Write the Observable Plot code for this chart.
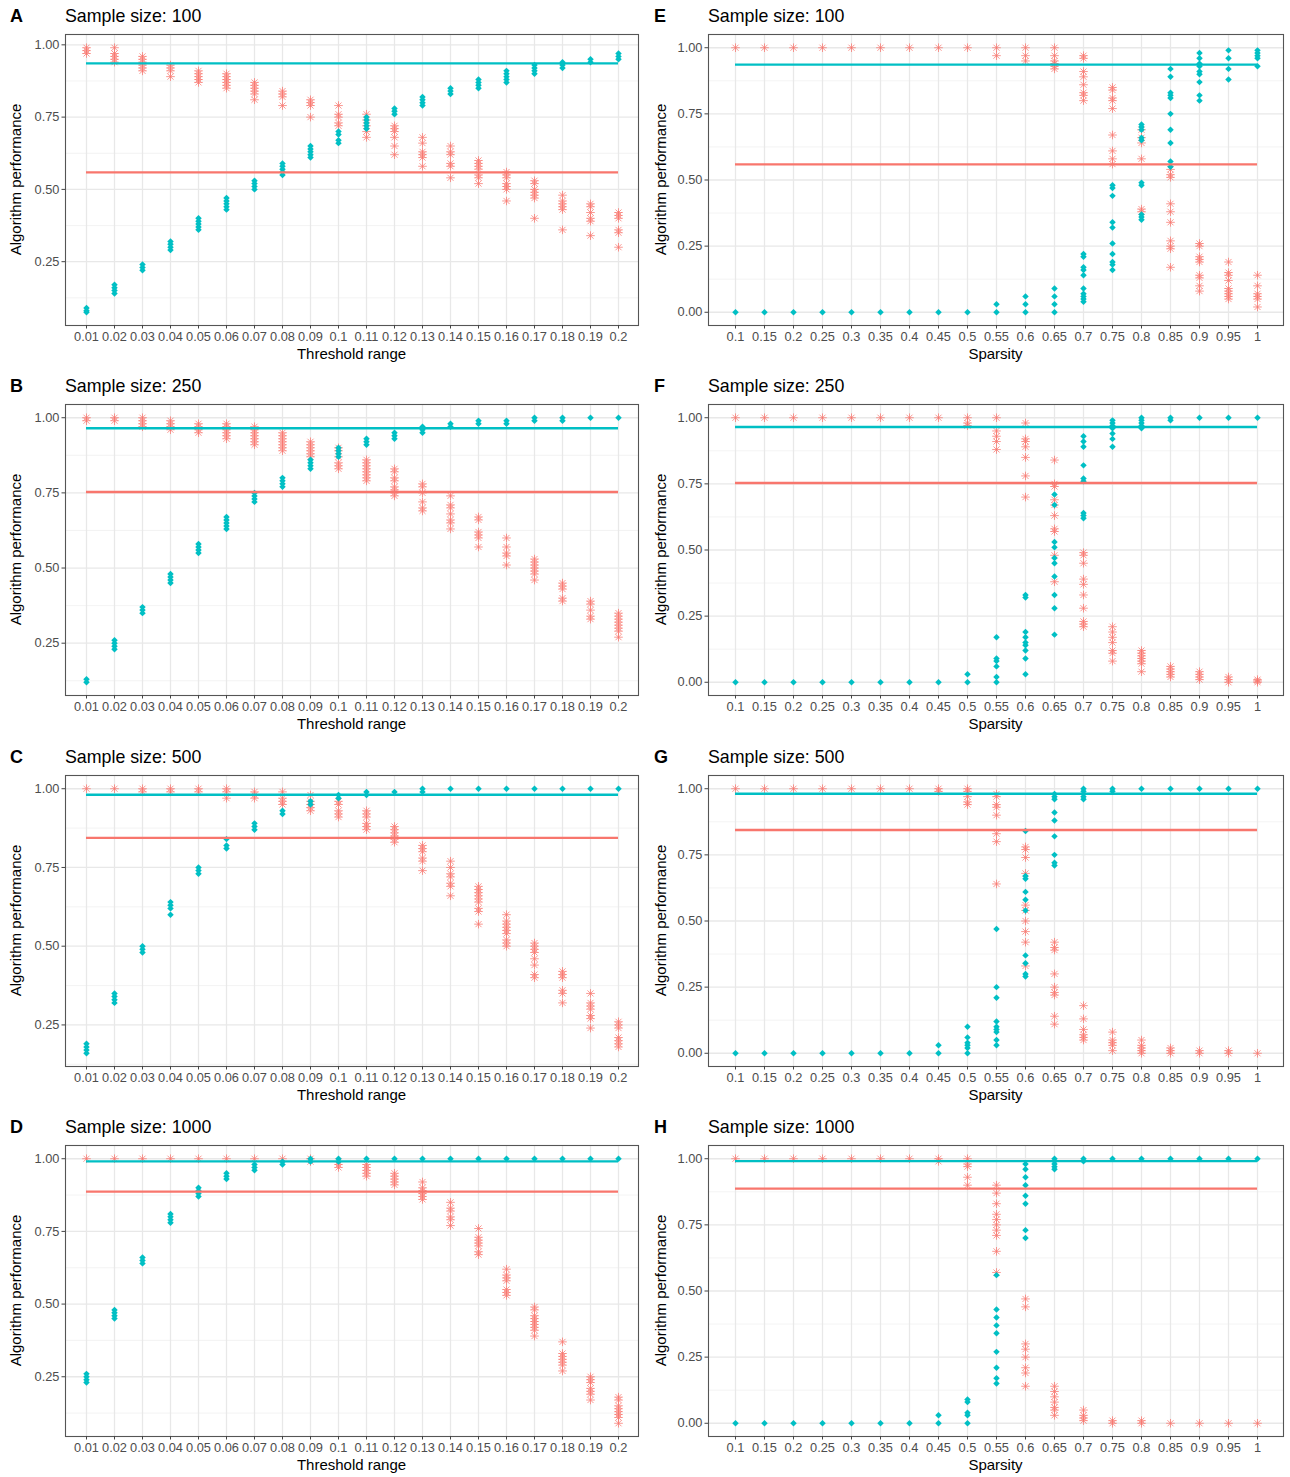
<!DOCTYPE html>
<html><head><meta charset="utf-8">
<script src="https://cdn.jsdelivr.net/npm/d3@7"></script>
<script src="https://cdn.jsdelivr.net/npm/@observablehq/plot@0.6"></script>
<style>
body{margin:0;background:#fff;}
#root{position:relative;width:1290px;height:1477px;background:#fff;font-family:"Liberation Sans",Arial,sans-serif;}
.panel{position:absolute;}
</style></head><body><div id="root"></div>
<script>
const thresholdCats = ["0.01","0.02","0.03","0.04","0.05","0.06","0.07","0.08","0.09","0.1","0.11","0.12","0.13","0.14","0.15","0.16","0.17","0.18","0.19","0.2"];
const sparsityCats = ["0.1","0.15","0.2","0.25","0.3","0.35","0.4","0.45","0.5","0.55","0.6","0.65","0.7","0.75","0.8","0.85","0.9","0.95","1"];
const sampleSizes = [100, 250, 500, 1000];
const leftLetters = ["A","B","C","D"];
const rightLetters = ["E","F","G","H"];
const refTeal = [0.936, 0.965, 0.981, 0.991];
const refRed = [0.559, 0.753, 0.844, 0.887];
const yMajorTicks = [0, 0.25, 0.5, 0.75, 1];
const yMinorTicks = [0.125, 0.375, 0.625, 0.875];

// Threshold range panels (teal diamonds / red asterisks)
const A_teal = [[0.075,0.08,0.09],[0.14,0.15,0.16,0.17],[0.22,0.23,0.24],[0.29,0.30,0.31,0.32],[0.36,0.37,0.38,0.39,0.40],[0.43,0.44,0.45,0.46,0.47],[0.50,0.51,0.52,0.53],[0.55,0.56,0.57,0.58,0.59],[0.61,0.62,0.63,0.64,0.65],[0.66,0.67,0.69,0.70],[0.71,0.72,0.73,0.74,0.75],[0.76,0.77,0.78],[0.79,0.80,0.81,0.82],[0.83,0.84,0.85],[0.85,0.86,0.87,0.88],[0.87,0.88,0.89,0.90,0.91],[0.90,0.91,0.92,0.93],[0.92,0.93,0.94],[0.94,0.95],[0.95,0.96,0.97]];
const A_red = [[0.97,0.98,0.99],[0.94,0.95,0.96,0.97,0.99],[0.91,0.92,0.93,0.94,0.95,0.96],[0.89,0.91,0.92,0.93],[0.87,0.88,0.89,0.90,0.91],[0.85,0.86,0.87,0.88,0.89,0.90],[0.81,0.83,0.84,0.85,0.86,0.87],[0.79,0.82,0.83,0.84],[0.75,0.79,0.80,0.81],[0.72,0.73,0.75,0.76,0.79],[0.68,0.70,0.72,0.74,0.76],[0.62,0.65,0.68,0.70,0.71,0.72],[0.58,0.61,0.62,0.63,0.66,0.68],[0.54,0.58,0.59,0.62,0.63,0.65],[0.52,0.54,0.55,0.57,0.58,0.59,0.60],[0.46,0.50,0.51,0.52,0.54,0.55,0.56],[0.40,0.47,0.48,0.49,0.50,0.52,0.53],[0.36,0.43,0.44,0.45,0.46,0.48],[0.34,0.39,0.40,0.42,0.44,0.45],[0.30,0.35,0.36,0.40,0.41,0.42]];
const B_teal = [[0.12,0.13],[0.23,0.24,0.25,0.26],[0.35,0.36,0.37],[0.45,0.46,0.47,0.48],[0.55,0.56,0.57,0.58],[0.63,0.64,0.65,0.66,0.67],[0.72,0.73,0.74,0.75],[0.77,0.78,0.79,0.80],[0.83,0.84,0.85,0.86],[0.87,0.88,0.89,0.90],[0.91,0.92,0.93],[0.93,0.94,0.95],[0.95,0.96,0.97],[0.97,0.98],[0.98,0.99],[0.98,0.99],[0.99,1.0],[0.99,1.0],[1.0],[1.0]];
const B_red = [[0.99,1.0],[0.99,1.0],[0.97,0.98,0.99,1.0],[0.96,0.97,0.98,0.99],[0.95,0.96,0.97,0.98],[0.93,0.94,0.95,0.96,0.97,0.98],[0.91,0.92,0.93,0.94,0.95,0.96,0.97],[0.89,0.90,0.91,0.92,0.93,0.94,0.95],[0.87,0.88,0.89,0.90,0.91,0.92],[0.83,0.84,0.85,0.87,0.89,0.90],[0.79,0.80,0.81,0.82,0.83,0.84,0.85,0.86],[0.74,0.75,0.76,0.77,0.79,0.80,0.82,0.83],[0.69,0.70,0.72,0.75,0.77,0.78],[0.63,0.65,0.66,0.68,0.70,0.71,0.74],[0.57,0.60,0.61,0.62,0.66,0.67],[0.51,0.54,0.55,0.57,0.60],[0.46,0.48,0.49,0.50,0.51,0.52,0.53],[0.39,0.40,0.43,0.44,0.45],[0.33,0.34,0.36,0.38,0.39],[0.27,0.29,0.30,0.31,0.32,0.33,0.34,0.35]];
const C_teal = [[0.16,0.17,0.18,0.19],[0.32,0.33,0.34,0.35],[0.48,0.49,0.50],[0.60,0.62,0.63,0.64],[0.73,0.74,0.75],[0.81,0.82,0.84],[0.87,0.88,0.89],[0.92,0.93],[0.95,0.96],[0.97,0.98],[0.98,0.99],[0.99],[0.99,1.0],[1.0],[1.0],[1.0],[1.0],[1.0],[1.0],[1.0]];
const C_red = [[1.0],[1.0],[0.99,1.0],[0.99,1.0],[0.99,1.0],[0.97,0.99,1.0],[0.97,0.98,0.99],[0.95,0.96,0.97,0.99],[0.93,0.94,0.95,0.96,0.98],[0.91,0.92,0.93,0.95,0.96],[0.87,0.88,0.89,0.91,0.92,0.93],[0.83,0.84,0.85,0.86,0.87,0.88],[0.74,0.77,0.78,0.80,0.81,0.82],[0.66,0.69,0.70,0.72,0.73,0.75,0.77],[0.57,0.61,0.62,0.64,0.65,0.66,0.67,0.68,0.69],[0.50,0.51,0.52,0.54,0.55,0.56,0.57,0.58,0.60],[0.40,0.41,0.44,0.46,0.48,0.49,0.50,0.51],[0.32,0.35,0.36,0.40,0.41,0.42],[0.24,0.27,0.28,0.30,0.31,0.32,0.35],[0.18,0.19,0.20,0.21,0.24,0.25,0.26]];
const D_teal = [[0.23,0.24,0.25,0.26],[0.45,0.46,0.47,0.48],[0.64,0.65,0.66],[0.78,0.79,0.80,0.81],[0.87,0.88,0.89,0.90],[0.93,0.94,0.95],[0.96,0.97,0.98],[0.98,0.99],[0.99,1.0],[0.99,1.0],[1.0],[1.0],[1.0],[1.0],[1.0],[1.0],[1.0],[1.0],[1.0],[1.0]];
const D_red = [[1.0],[1.0],[1.0],[1.0],[1.0],[1.0],[1.0],[1.0],[0.99,1.0],[0.97,0.98,0.99],[0.94,0.95,0.96,0.97,0.98],[0.91,0.92,0.93,0.94,0.95],[0.86,0.87,0.88,0.89,0.90,0.92],[0.77,0.79,0.80,0.82,0.83,0.85],[0.67,0.68,0.70,0.71,0.72,0.73,0.76],[0.53,0.54,0.55,0.58,0.59,0.60,0.62],[0.39,0.41,0.42,0.43,0.44,0.45,0.46,0.48,0.49],[0.27,0.29,0.30,0.31,0.32,0.33,0.37],[0.17,0.19,0.20,0.21,0.23,0.24,0.25],[0.09,0.11,0.12,0.13,0.14,0.15,0.17,0.18]];

// Sparsity panels
const E_teal = [[0],[0],[0],[0],[0],[0],[0],[0],[0],[0,0.03],[0,0.03,0.06],[0,0.03,0.06,0.09],[0.04,0.05,0.06,0.07,0.09,0.14,0.16,0.17,0.21,0.22],[0.16,0.18,0.19,0.22,0.26,0.32,0.34,0.44,0.47,0.48],[0.35,0.36,0.37,0.48,0.49,0.65,0.66,0.69,0.70,0.71],[0.55,0.57,0.64,0.69,0.75,0.81,0.82,0.83,0.89,0.92],[0.80,0.82,0.87,0.90,0.91,0.93,0.94,0.96,0.98],[0.88,0.92,0.96,0.99],[0.93,0.96,0.97,0.98,0.99]];
const E_red = [[1],[1],[1],[1],[1],[1],[1],[1],[1],[0.97,1.0],[0.95,0.97,1.0],[0.92,0.93,0.94,0.95,0.97,1.0],[0.80,0.82,0.83,0.86,0.89,0.91,0.96,0.97],[0.56,0.58,0.61,0.67,0.77,0.80,0.81,0.84,0.85],[0.38,0.39,0.58,0.64,0.66,0.69],[0.17,0.24,0.25,0.27,0.34,0.38,0.41,0.51,0.52,0.54],[0.08,0.10,0.13,0.14,0.19,0.20,0.21,0.25,0.26],[0.05,0.06,0.07,0.08,0.09,0.12,0.14,0.15,0.19],[0.02,0.05,0.06,0.07,0.10,0.14]];
const F_teal = [[0],[0],[0],[0],[0],[0],[0],[0],[0,0.03],[0,0.02,0.06,0.08,0.09,0.17],[0.03,0.09,0.12,0.14,0.15,0.17,0.19,0.32,0.33],[0.18,0.28,0.33,0.40,0.45,0.47,0.51,0.53,0.67,0.71],[0.62,0.63,0.64,0.76,0.77,0.82,0.89,0.91,0.93],[0.89,0.92,0.94,0.96,0.97,0.98,0.99],[0.96,0.97,0.98,0.99,1.0],[0.99,1.0],[1.0],[1.0],[1.0]];
const F_red = [[1],[1],[1],[1],[1],[1],[1],[1],[0.97,0.98,1.0],[0.88,0.91,0.93,0.95,1.0],[0.70,0.78,0.85,0.89,0.91,0.92,0.98],[0.38,0.48,0.57,0.58,0.63,0.67,0.69,0.74,0.75,0.84],[0.21,0.22,0.23,0.28,0.33,0.37,0.39,0.45,0.48,0.49],[0.08,0.11,0.12,0.15,0.17,0.19,0.21],[0.04,0.07,0.08,0.09,0.10,0.11,0.12],[0.02,0.03,0.04,0.05,0.06],[0.01,0.02,0.03,0.04],[0,0.01,0.02],[0,0.005,0.01]];
const G_teal = [[0],[0],[0],[0],[0],[0],[0],[0,0.03],[0,0.02,0.03,0.04,0.06,0.10],[0.03,0.05,0.08,0.09,0.10,0.12,0.21,0.25,0.47],[0.29,0.30,0.34,0.37,0.54,0.58,0.61,0.66,0.67,0.84],[0.71,0.72,0.75,0.82,0.88,0.91,0.96,0.97,0.98],[0.96,0.97,0.98,0.99,1.0],[0.99,1.0],[1.0],[1.0],[1.0],[1.0],[1.0]];
const G_red = [[1],[1],[1],[1],[1],[1],[1],[0.99,1.0],[0.94,0.95,0.97,0.99,1.0],[0.64,0.80,0.83,0.90,0.93,0.94,0.97,0.98],[0.33,0.42,0.46,0.50,0.54,0.56,0.68,0.74,0.77,0.78],[0.11,0.14,0.22,0.23,0.25,0.30,0.39,0.40,0.42],[0.05,0.06,0.07,0.09,0.13,0.18],[0.01,0.03,0.04,0.05,0.08],[0,0.01,0.02,0.03,0.05],[0,0.01,0.02],[0,0.01],[0,0.01],[0]];
const H_teal = [[0],[0],[0],[0],[0],[0],[0],[0,0.03],[0,0.03,0.04,0.08,0.09],[0.15,0.17,0.21,0.27,0.34,0.37,0.40,0.43,0.56],[0.70,0.73,0.83,0.86,0.90,0.93,0.96,0.98],[0.96,0.97,0.98,0.99,1.0],[0.99,1.0],[1.0],[1.0],[1.0],[1.0],[1.0],[1.0]];
const H_red = [[1],[1],[1],[1],[1],[1],[1],[0.99,1.0],[0.90,0.93,0.97,0.98,1.0],[0.57,0.65,0.71,0.73,0.75,0.77,0.79,0.83,0.87,0.90],[0.14,0.19,0.21,0.25,0.28,0.30,0.44,0.47],[0.03,0.05,0.06,0.08,0.10,0.12,0.14],[0.01,0.02,0.03,0.05],[0,0.01],[0,0.01],[0],[0],[0],[0]];

const leftTeal = [A_teal, B_teal, C_teal, D_teal];
const leftRed = [A_red, B_red, C_red, D_red];
const rightTeal = [E_teal, F_teal, G_teal, H_teal];
const rightRed = [E_red, F_red, G_red, H_red];

const TEAL = "#00BFC4", RED = "#F8766D";
const FONT = "'Liberation Sans', Arial, Helvetica, sans-serif";
const rowTops = [0, 370, 741, 1111];

// ggplot shape 8 style asterisk (+ and x superimposed)
const asterisk8 = {
  draw(ctx, size) {
    const r = Math.sqrt(size / Math.PI);
    const d = r * Math.SQRT1_2;
    ctx.moveTo(-r, 0); ctx.lineTo(r, 0);
    ctx.moveTo(0, -r); ctx.lineTo(0, r);
    ctx.moveTo(-d, -d); ctx.lineTo(d, d);
    ctx.moveTo(-d, d); ctx.lineTo(d, -d);
  }
};

function makePanel(col, row) {
  const cats = col === 0 ? thresholdCats : sparsityCats;
  const tealArr = (col === 0 ? leftTeal : rightTeal)[row];
  const redArr = (col === 0 ? leftRed : rightRed)[row];
  const letter = (col === 0 ? leftLetters : rightLetters)[row];
  const xTitle = col === 0 ? "Threshold range" : "Sparsity";
  const toRows = arr => arr.flatMap((vals, i) => vals.map(v => ({x: cats[i], y: v})));
  const red = toRows(redArr), teal = toRows(tealArr);
  const ys = red.concat(teal).map(d => d.y);
  const lo = d3.min(ys), hi = d3.max(ys), pad = (hi - lo) * 0.05;
  const domain = [lo - pad, hi + pad];
  const major = yMajorTicks.filter(t => t >= domain[0] && t <= domain[1]);
  const minor = yMinorTicks.filter(t => t >= domain[0] && t <= domain[1]);
  const ml = col === 0 ? 65 : 63, mr = 7, W = 645, H = 369, mt = 34, mb = 44;
  const refs = [
    {y: refRed[row], a: cats[0], b: cats[cats.length - 1], c: RED},
    {y: refTeal[row], a: cats[0], b: cats[cats.length - 1], c: TEAL}
  ];
  const svg = Plot.plot({
    width: W, height: H, marginTop: mt, marginBottom: mb, marginLeft: ml, marginRight: mr,
    style: {fontFamily: FONT, fontSize: "12.5px", color: "#4d4d4d", background: "transparent", overflow: "visible"},
    x: {type: "point", domain: cats, padding: 0.6},
    y: {domain},
    marks: [
      Plot.gridY(minor, {stroke: "#f0f0f0", strokeOpacity: 1, strokeWidth: 0.8}),
      Plot.gridY(major, {stroke: "#e8e8e8", strokeOpacity: 1, strokeWidth: 1.3}),
      Plot.gridX(cats, {stroke: "#e8e8e8", strokeOpacity: 1, strokeWidth: 1.3}),
      Plot.dot(red, {x: "x", y: "y", symbol: asterisk8, r: 4.3, stroke: RED, fill: "none", strokeWidth: 1, strokeOpacity: 0.75}),
      Plot.dot(teal, {x: "x", y: "y", symbol: "diamond2", r: 2.9, fill: TEAL, stroke: "none"}),
      Plot.ruleY(refs, {y: "y", x1: "a", x2: "b", stroke: "c", strokeWidth: 2.4}),
      Plot.frame({stroke: "#555555", strokeWidth: 1.1}),
      Plot.axisX({tickSize: 3.5, tickPadding: 3, fontSize: 12.8, label: null, stroke: "#444", fill: "#4d4d4d"}),
      Plot.axisY({ticks: major, tickSize: 3.5, tickPadding: 2.5, fontSize: 12.8, tickFormat: d3.format(".2f"), label: null, stroke: "#444", fill: "#4d4d4d"})
    ]
  });
  const s = d3.select(svg);
  s.append("text").attr("x", col === 0 ? 10 : 9).attr("y", 22).attr("font-size", 18).attr("font-weight", "bold")
    .attr("text-anchor", "start").attr("fill", "#000").attr("font-family", FONT).text(letter);
  s.append("text").attr("x", ml).attr("y", 22).attr("font-size", 17.8).attr("text-anchor", "start")
    .attr("fill", "#000").attr("font-family", FONT).text("Sample size: " + sampleSizes[row]);
  s.append("text").attr("transform", `translate(21,${mt + (H - mt - mb) / 2}) rotate(-90)`).attr("text-anchor", "middle")
    .attr("font-size", 15).attr("fill", "#000").attr("font-family", FONT).text("Algorithm performance");
  s.append("text").attr("x", ml + (W - ml - mr) / 2).attr("y", 359).attr("text-anchor", "middle")
    .attr("font-size", 15).attr("fill", "#000").attr("font-family", FONT).text(xTitle);
  const div = document.createElement("div");
  div.className = "panel";
  div.style.left = (col * 645) + "px";
  div.style.top = rowTops[row] + "px";
  div.appendChild(svg);
  document.getElementById("root").appendChild(div);
}

for (let row = 0; row < 4; row++) for (let col = 0; col < 2; col++) makePanel(col, row);
</script>
</body></html>
